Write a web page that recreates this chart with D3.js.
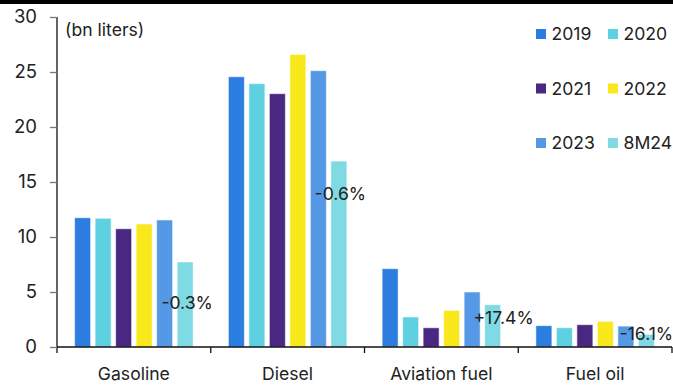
<!DOCTYPE html>
<html>
<head>
<meta charset="utf-8">
<script src="https://cdn.jsdelivr.net/npm/d3@7"></script>
<style>
  html, body { margin: 0; padding: 0; background: #fff; }
  svg { display: block; font-family: Inter, "Noto Sans", sans-serif; }
</style>
</head>
<body>
<svg id="chart" width="673" height="386"></svg>
<script>
// Fuel consumption by product, bn liters
const categories = ["Gasoline", "Diesel", "Aviation fuel", "Fuel oil"];
const seriesNames = ["2019", "2020", "2021", "2022", "2023", "8M24"];
const v2019 = [11.75, 24.57, 7.12, 1.94];
const v2020 = [11.70, 23.94, 2.73, 1.75];
const v2021 = [10.75, 23.03, 1.75, 2.03];
const v2022 = [11.18, 26.60, 3.33, 2.33];
const v2023 = [11.55, 25.12, 5.00, 1.90];
const v8M24 = [7.73, 16.90, 3.85, 1.15];
const changeLabels = ["-0.3%", "-0.6%", "+17.4%", "-16.1%"];
const yTicks = [0, 5, 10, 15, 20, 25, 30];

const seriesValues = [v2019, v2020, v2021, v2022, v2023, v8M24];
const colors = ["#2b7de0", "#5fd0df", "#4a2882", "#f9e81c", "#5598e5", "#7fdae3"];

const svg = d3.select("#chart");
const W = 673, H = 386;
const FS = 17.6;

// top rule
svg.append("rect").attr("x", 0).attr("y", 0).attr("width", W).attr("height", 4).attr("fill", "#000");

const y = d3.scaleLinear().domain([0, 30]).range([347, 17]);
const x0 = d3.scaleBand().domain(categories).range([57, 672]).padding(0);
const x1 = d3.scaleBand().domain(seriesNames).range([0, x0.bandwidth()])
  .paddingInner(0.22).paddingOuter(0.86);

// bars
const groups = svg.append("g").selectAll("g").data(categories).join("g")
  .attr("transform", d => `translate(${x0(d)},0)`);

groups.selectAll("rect")
  .data((c, i) => seriesNames.map((s, k) => ({ s, k, v: seriesValues[k][i] })))
  .join("rect")
  .attr("x", d => x1(d.s))
  .attr("width", x1.bandwidth())
  .attr("y", d => y(d.v))
  .attr("height", d => y(0) - y(d.v))
  .attr("fill", d => colors[d.k])
  .attr("stroke", "rgba(255,255,255,0.55)")
  .attr("stroke-width", 1);

// y axis
const yAxis = svg.append("g").attr("transform", "translate(57,0)")
  .call(d3.axisLeft(y).tickValues(yTicks).tickSize(7).tickPadding(13));
yAxis.select(".domain").attr("stroke", "#111").attr("stroke-width", 1.3)
  .attr("d", `M0,${y(30)}V${y(0) + 6}`);
yAxis.selectAll(".tick line").attr("stroke", "#777").attr("stroke-width", 1.3);
yAxis.selectAll(".tick text").attr("font-size", 18.5).attr("fill", "#222")
  .attr("font-family", "Inter, sans-serif");

// x axis with boundary ticks between categories
const xAxisG = svg.append("g");
xAxisG.append("line").attr("x1", 57).attr("x2", 672).attr("y1", y(0)).attr("y2", y(0))
  .attr("stroke", "#111").attr("stroke-width", 1.3);
const bounds = categories.map(c => x0(c)).concat([x0(categories[3]) + x0.bandwidth()]);
xAxisG.selectAll("line.b").data(bounds.slice(1)).join("line").attr("class", "b")
  .attr("x1", d => d).attr("x2", d => d).attr("y1", y(0)).attr("y2", y(0) + 6)
  .attr("stroke", "#111").attr("stroke-width", 1.3);
xAxisG.selectAll("text").data(categories).join("text")
  .attr("x", d => x0(d) + x0.bandwidth() / 2)
  .attr("y", 380)
  .attr("text-anchor", "middle")
  .attr("font-size", FS)
  .attr("fill", "#222")
  .text(d => d);

// unit label
svg.append("text").attr("x", 65).attr("y", 36).attr("font-size", FS).attr("fill", "#222")
  .text("(bn liters)");

// change annotations beside the 8M24 bars
const labelPlacement = [{ dx: 2, v: 4.0 }, { dx: 1.5, v: 13.9 }, { dx: 11, v: 2.64 }, { dx: 0, v: 1.18 }];
svg.append("g").selectAll("text").data(categories).join("text")
  .attr("x", (c, i) => x0(c) + x1("8M24") + x1.bandwidth() / 2 + labelPlacement[i].dx)
  .attr("y", (c, i) => y(labelPlacement[i].v))
  .attr("dy", "0.36em")
  .attr("text-anchor", "middle")
  .attr("font-size", FS)
  .attr("fill", "#222")
  .text((c, i) => changeLabels[i]);

// legend, two columns
const legend = svg.append("g").selectAll("g").data(seriesNames).join("g")
  .attr("transform", (d, i) => `translate(${i % 2 === 0 ? 536 : 608},${34 + Math.floor(i / 2) * 54.5})`);
legend.append("rect").attr("x", 0).attr("y", -5).attr("width", 10).attr("height", 10)
  .attr("fill", (d, i) => colors[i]);
legend.append("text").attr("x", 15.5).attr("dy", "0.36em").attr("font-size", FS)
  .attr("fill", "#222").text(d => d);
</script>
</body>
</html>
